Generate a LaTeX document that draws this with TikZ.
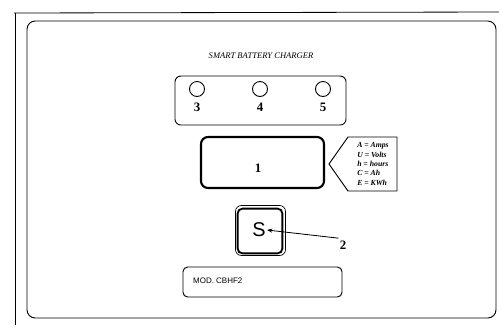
\documentclass[tikz,border=0pt]{standalone}
\usepackage{fontspec}
\setmainfont{Liberation Serif}
\setsansfont{Liberation Sans}
\usetikzlibrary{arrows.meta, positioning}
\tikzset{
    panel/.style={rectangle, draw=black, line width=0.8pt, rounded corners=7pt},
    ledbox/.style={rectangle, draw=black, line width=0.8pt, rounded corners=5pt, minimum width=5.13cm, minimum height=1.47cm},
    lamp/.style={circle, draw=black, line width=0.8pt, minimum size=0.45cm, inner sep=0pt},
    ledno/.style={font=\fontsize{11}{12}\selectfont\bfseries, inner sep=0pt},
    display/.style={rectangle, draw=black, line width=1.8pt, rounded corners=6pt, minimum width=3.69cm, minimum height=1.53cm},
    keyouter/.style={rectangle, draw=black, line width=0.6pt, rounded corners=5pt, minimum size=1.5cm},
    keyinner/.style={rectangle, draw=black, line width=1.6pt, rounded corners=4pt, minimum size=1.34cm},
    modbox/.style={rectangle, draw=black, line width=0.8pt, rounded corners=4pt, minimum width=4.77cm, minimum height=0.9cm},
    pointer/.style={-{Stealth[length=4.5pt, width=3.5pt]}, line width=0.7pt}
}
\begin{document}
\begin{tikzpicture}[x=0.03cm, y=-0.03cm]
    \useasboundingbox (0,0) rectangle (499,325);
    % scan edge
    \draw[line width=0.7pt] (14,13) -- (499,12);
    \draw[line width=0.7pt] (15,13) -- (15,325);
    \draw[panel] (27,21) rectangle (496,318);

    \node (title) at (261,56) {\fontsize{7.3}{8}\selectfont\itshape SMART BATTERY CHARGER};

    % lamps
    \node (leds) [ledbox] at (260.5,100.5) {};
    \node (lamp3) [lamp] at (197,89) {};
    \node (lamp4) [lamp] at (260,89) {};
    \node (lamp5) [lamp] at (323,89) {};
    \node (no3) [ledno, below=0.18cm of lamp3] {3};
    \node (no4) [ledno, below=0.18cm of lamp4] {4};
    \node (no5) [ledno, below=0.18cm of lamp5] {5};

    % display
    \node (screen) [display] at (262.5,162.5) {};
    \node (no1) [ledno] at (258,168) {1};
    \draw[line width=0.8pt] (329,164) -- (348,137) -- (397,137) -- (397,191) -- (348,191) -- cycle;
    \node (units) [align=left, inner sep=0pt, font=\fontsize{6.6}{7.9}\selectfont\bfseries\itshape] at (373,164)
        {A = Amps\\U = Volts\\h = hours\\C = Ah\\E = KWh};

    % start key
    \node (keyrim) [keyouter] at (260.5,230.5) {};
    \node (skey) [keyinner] at (260,231) {};
    \node (stext) [font=\sffamily\fontsize{17}{18}\selectfont, inner sep=1pt] at (259,230) {S};
    \node (no2) [ledno] at (343,245) {2};
    \draw[pointer] ([xshift=-1pt, yshift=2pt]no2.north west) -- (stext.east);

    % model plate
    \node (plate) [modbox] at (262.5,282) {};
    \node (model) [font=\sffamily\fontsize{6.8}{7}\selectfont, anchor=west, inner sep=0pt] at (193,281) {MOD. CBHF2};
\end{tikzpicture}
\end{document}
